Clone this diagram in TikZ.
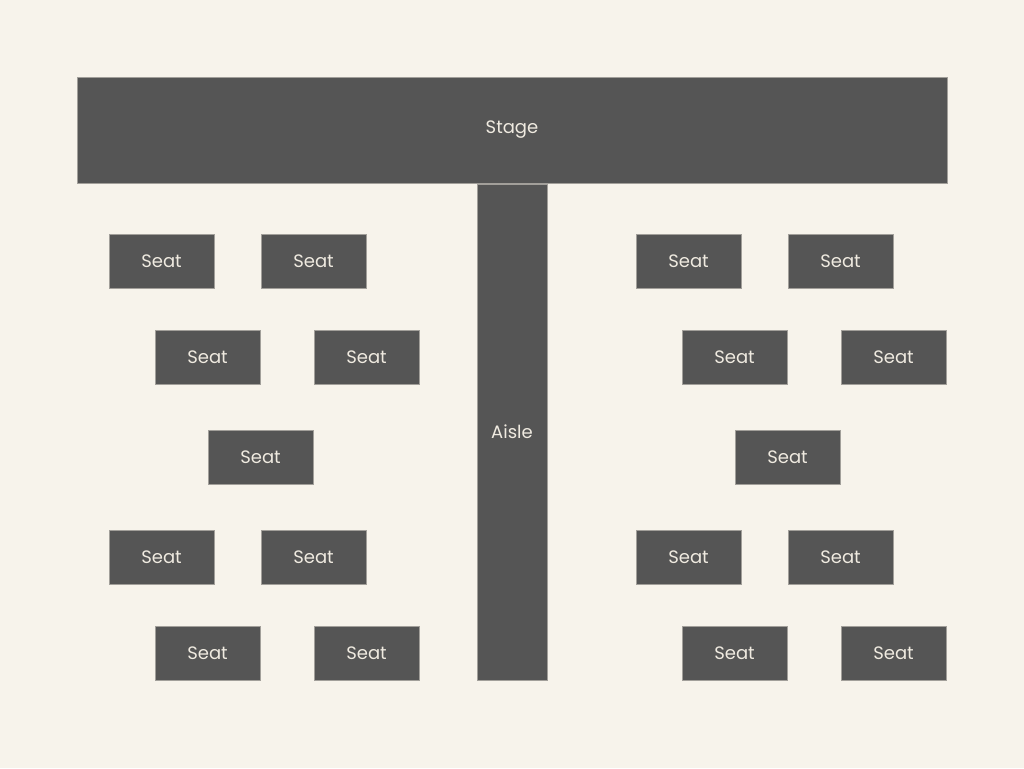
\documentclass[tikz,border=0pt]{standalone}
\usepackage{fontspec}
\setmainfont{Poppins}
\usetikzlibrary{positioning}
\definecolor{floorbg}{HTML}{F7F3EB}
\definecolor{blockgray}{HTML}{555555}
\definecolor{labelcream}{HTML}{EFEAE0}
\tikzset{
  block/.style={draw=labelcream!50!blockgray, line width=0.4pt, fill=blockgray, text=labelcream, inner sep=0pt, outer sep=0pt, font=\fontsize{18}{21}\selectfont},
  seat/.style={block, minimum width=105pt, minimum height=54pt}
}
\begin{document}
\begin{tikzpicture}[x=1pt, y=-1pt]
  \fill[floorbg] (0,0) rectangle (1024,768);
  \useasboundingbox (0,0) rectangle (1024,768);

  % stage and aisle
  \node[block, minimum width=870pt, minimum height=106pt] (stage) at (512,130) {Stage};
  \node[block, minimum width=70pt, minimum height=496pt, below=1pt of stage] (aisle) {Aisle};

  % seats, left block then right block
  \foreach \name/\cx/\cy in {
      sl1/161.5/261, sl2/313.5/261, sl3/207.5/357, sl4/366.5/357, sl5/260.5/457,
      sl6/161.5/557, sl7/313.5/557, sl8/207.5/653, sl9/366.5/653,
      sr1/688.5/261, sr2/840.5/261, sr3/734.5/357, sr4/893.5/357, sr5/787.5/457,
      sr6/688.5/557, sr7/840.5/557, sr8/734.5/653, sr9/893.5/653}
    \node[seat] (\name) at (\cx,\cy) {Seat};
\end{tikzpicture}
\end{document}
